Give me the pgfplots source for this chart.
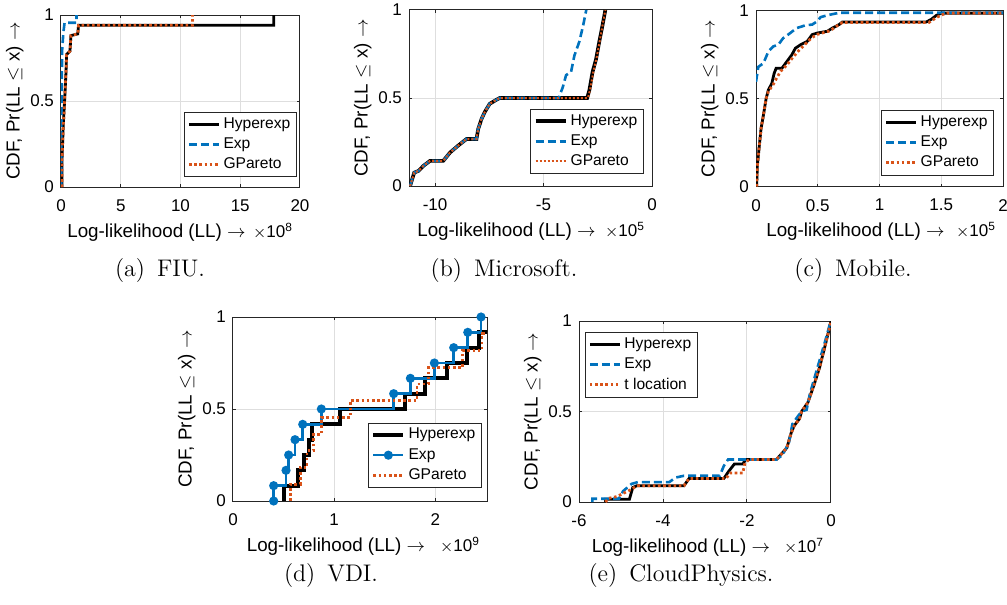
\documentclass[border=0pt]{standalone}
\usepackage{fontspec}
\usepackage{pgfplots}
\pgfplotsset{compat=1.18}
\newfontfamily\hv{Liberation Sans}
\definecolor{mblue}{rgb}{0,0.447,0.741}
\definecolor{morange}{rgb}{0.85,0.325,0.098}
\definecolor{axgray}{rgb}{0.15,0.15,0.15}
\definecolor{gridgray}{rgb}{0.87,0.87,0.87}

\pgfplotsset{
  mlab/.style={
    scale only axis, anchor=south west,
    ymin=0, ymax=1, ytick={0,0.5,1},
    grid=major, major grid style={gridgray, line width=0.5pt},
    axis line style={axgray, line width=0.5pt},
    every tick/.style={axgray, line width=0.5pt},
    tick align=inside, major tick length=1.5pt, tick pos=both,
    /pgf/number format/assume math mode=true,
    tick label style={font=\hv\fontsize{8.5}{10}\selectfont},
    xticklabel style={yshift=-2.8pt},
    label style={font=\hv\fontsize{9.4}{11}\selectfont},
    xlabel={Log-likelihood (LL) $\rightarrow$},
    xlabel style={at={(axis description cs:0.5,0)}, anchor=base, yshift=-25pt, xshift=-12pt},
    ylabel={CDF, Pr(LL $\leq$ x) $\rightarrow$},
    ylabel shift=-3.5pt,
    legend cell align=left,
    legend style={font=\hv\fontsize{7.8}{9}\selectfont, draw=axgray,
      fill=white, inner xsep=1.5pt, inner ysep=1pt, nodes={inner sep=1.6pt, text depth=0.15em}},
    legend image code/.code={\draw[mark repeat=2, mark phase=2, #1] plot coordinates {(0pt,0pt) (7.5pt,0pt) (15pt,0pt)};},
  },
  hyp/.style={black, line width=1.4pt},
  expo/.style={mblue, line width=1.3pt, dash pattern=on 4pt off 2pt},
  gpar/.style={morange, line width=1.4pt, dash pattern=on 1.3pt off 1.3pt},
}
\newcommand{\expo}[1]{\hv\fontsize{8.5}{10}\selectfont$\times$10\textsuperscript{#1}}

\begin{document}
\begin{tikzpicture}
\path[use as bounding box] (0,0) rectangle (503.5pt,-302.5pt);

% (a) FIU
\begin{axis}[mlab, name=A, at={(30.5pt,-93.5pt)}, width=119.5pt, height=86pt,
  xmin=0, xmax=20, xtick={0,5,10,15,20},
  legend style={at={(0.987,0.058)}, anchor=south east}]
\addplot[hyp] coordinates {(0.08,0) (0.08,0.15) (0.19,0.36) (0.3,0.5) (0.42,0.67) (0.47,0.77) (0.75,0.79) (0.83,0.88) (1.4,0.89) (1.47,0.94) (17.8,0.94) (17.8,1)};
\addlegendentry{Hyperexp}
\addplot[expo] coordinates {(0.02,0) (0.03,0.3) (0.06,0.6) (0.1,0.8) (0.2,0.9) (0.3,0.955) (1.3,0.955) (1.3,1)};
\addlegendentry{Exp}
\addplot[gpar] coordinates {(0.08,0) (0.08,0.15) (0.19,0.36) (0.3,0.5) (0.42,0.67) (0.47,0.77) (0.75,0.79) (0.83,0.88) (1.4,0.89) (1.47,0.94) (11,0.94) (11,1)};
\addlegendentry{GPareto}
\end{axis}
\node[anchor=base east] at ([yshift=-25pt]A.south east) {\expo{8}};

% (b) Microsoft
\begin{axis}[mlab, name=B, at={(204.5pt,-93pt)}, width=121.5pt, height=88pt,
  xmin=-11.2, xmax=0, xtick={-10,-5,0},
  legend style={at={(0.967,0.068)}, anchor=south east}]
\addplot[black, line width=1.8pt] coordinates {(-11.15,0) (-10.96,0.076) (-10.76,0.086) (-10.54,0.114) (-10.23,0.143) (-9.62,0.143) (-9.31,0.19) (-8.93,0.23) (-8.55,0.267) (-8.09,0.267) (-8.01,0.324) (-7.86,0.38) (-7.71,0.42) (-7.48,0.467) (-7.17,0.49) (-7.02,0.5) (-2.99,0.5) (-2.89,0.543) (-2.74,0.648) (-2.58,0.72) (-2.43,0.82) (-2.28,0.914) (-2.15,1.0)};
\addlegendentry{Hyperexp}
\addplot[expo] coordinates {(-11.15,0) (-10.96,0.076) (-10.76,0.086) (-10.54,0.114) (-10.23,0.143) (-9.62,0.143) (-9.31,0.19) (-8.93,0.23) (-8.55,0.267) (-8.09,0.267) (-8.01,0.324) (-7.86,0.38) (-7.71,0.42) (-7.48,0.467) (-7.17,0.49) (-7.02,0.5) (-4.3,0.5) (-4.11,0.562) (-3.96,0.63) (-3.73,0.648) (-3.58,0.74) (-3.35,0.82) (-3.17,0.914) (-3.03,1.0)};
\addlegendentry{Exp}
\addplot[morange, line width=1pt, dash pattern=on 1pt off 1pt] coordinates {(-11.15,0) (-10.96,0.076) (-10.76,0.086) (-10.54,0.114) (-10.23,0.143) (-9.62,0.143) (-9.31,0.19) (-8.93,0.23) (-8.55,0.267) (-8.09,0.267) (-8.01,0.324) (-7.86,0.38) (-7.71,0.42) (-7.48,0.467) (-7.17,0.49) (-7.02,0.5) (-2.95,0.5) (-2.85,0.55) (-2.7,0.65) (-2.55,0.73) (-2.4,0.83) (-2.27,0.92) (-2.15,1.0)};
\addlegendentry{GPareto}
\end{axis}
\node[anchor=base east] at ([yshift=-25pt]B.south east) {\expo{5}};

% (c) Mobile
\begin{axis}[mlab, name=C, at={(378pt,-93.25pt)}, width=123.5pt, height=88pt,
  xmin=0, xmax=2, xtick={0,0.5,1,1.5,2},
  legend style={at={(0.964,0.063)}, anchor=south east}]
\addplot[hyp] coordinates {(0.005,0) (0.011,0.118) (0.027,0.233) (0.041,0.33) (0.06,0.405) (0.082,0.5) (0.1,0.548) (0.128,0.586) (0.147,0.643) (0.163,0.672) (0.21,0.672) (0.25,0.71) (0.29,0.748) (0.319,0.786) (0.36,0.805) (0.414,0.824) (0.455,0.863) (0.496,0.872) (0.578,0.882) (0.618,0.9) (0.673,0.92) (0.7,0.935) (1.38,0.935) (1.42,0.95) (1.46,0.972) (1.5,0.985) (2,0.985)};
\addlegendentry{Hyperexp}
\addplot[expo] coordinates {(0,0.595) (0.019,0.68) (0.06,0.70) (0.1,0.767) (0.14,0.796) (0.18,0.805) (0.22,0.843) (0.26,0.863) (0.33,0.9) (0.4,0.916) (0.455,0.92) (0.496,0.939) (0.523,0.962) (0.577,0.973) (0.673,0.987) (2,0.987)};
\addlegendentry{Exp}
\addplot[gpar] coordinates {(0.005,0) (0.011,0.118) (0.027,0.233) (0.041,0.33) (0.06,0.405) (0.082,0.5) (0.1,0.54) (0.14,0.58) (0.17,0.62) (0.2,0.655) (0.25,0.69) (0.3,0.735) (0.35,0.775) (0.4,0.81) (0.45,0.845) (0.5,0.865) (0.6,0.885) (0.65,0.91) (0.7,0.932) (1.4,0.932) (1.45,0.955) (1.5,0.975) (1.55,0.985) (2,0.985)};
\addlegendentry{GPareto}
\end{axis}
\node[anchor=base east] at ([yshift=-25pt]C.south east) {\expo{5}};

% (d) VDI
\begin{axis}[mlab, name=D, at={(116.5pt,-250.5pt)}, width=127pt, height=92pt,
  xmin=0, xmax=2.51, xtick={0,1,2},
  legend style={at={(0.98,0.071)}, anchor=south east}]
\addplot[black, line width=2pt, const plot] coordinates {(0.50,0) (0.50,0.0833) (0.639,0.1667) (0.698,0.25) (0.748,0.3333) (0.78,0.4167) (1.061,0.5) (1.703,0.5833) (1.901,0.6667) (2.115,0.75) (2.313,0.8333) (2.435,0.9167) (2.6,1)};
\addlegendentry{Hyperexp}
\addplot[mblue, line width=1.3pt, const plot, mark=*, mark size=1.6pt, mark options={solid, fill=mblue}] coordinates {(0.402,0) (0.402,0.0833) (0.524,0.1667) (0.55,0.25) (0.613,0.3333) (0.689,0.4167) (0.873,0.5) (1.588,0.5833) (1.753,0.6667) (1.99,0.75) (2.181,0.8333) (2.32,0.9167) (2.451,1)};
\addlegendentry{Exp}
\addplot[gpar, const plot] coordinates {(0.567,0) (0.567,0.0909) (0.666,0.1818) (0.731,0.2727) (0.797,0.3636) (0.873,0.4545) (1.16,0.5455) (1.819,0.6364) (1.934,0.7273) (2.27,0.8182) (2.46,0.9091) (2.6,1)};
\addlegendentry{GPareto}
\end{axis}
\node[anchor=base east] at ([yshift=-25pt]D.south east) {\expo{9}};

% (e) CloudPhysics
\begin{axis}[mlab, name=E, at={(289.5pt,-251pt)}, width=126pt, height=90.5pt,
  xmin=-6, xmax=0, xtick={-6,-4,-2,0},
  legend style={at={(0.024,0.94)}, anchor=north west}]
\addplot[hyp] coordinates {(-5.37,0) (-5.37,0.015) (-4.8,0.015) (-4.72,0.08) (-4.62,0.09) (-3.5,0.09) (-3.38,0.13) (-2.55,0.13) (-2.45,0.165) (-2.3,0.21) (-2.1,0.21) (-2.03,0.235) (-1.3,0.235) (-1.2,0.26) (-1.05,0.3) (-0.95,0.38) (-0.88,0.42) (-0.75,0.46) (-0.7,0.5) (-0.55,0.55) (-0.4,0.65) (-0.27,0.745) (-0.15,0.855) (-0.07,0.93) (0,1)};
\addlegendentry{Hyperexp}
\addplot[expo] coordinates {(-5.68,0) (-5.68,0.018) (-5.05,0.018) (-4.95,0.06) (-4.75,0.1) (-4.6,0.11) (-3.85,0.11) (-3.7,0.135) (-3.5,0.145) (-2.65,0.145) (-2.55,0.2) (-2.45,0.235) (-1.3,0.235) (-1.15,0.26) (-1.0,0.33) (-0.92,0.43) (-0.8,0.47) (-0.7,0.5) (-0.58,0.51) (-0.5,0.6) (-0.4,0.68) (-0.3,0.76) (-0.2,0.84) (-0.1,0.92) (-0.02,0.99) (0,1)};
\addlegendentry{Exp}
\addplot[gpar] coordinates {(-5.37,0) (-5.3,0.02) (-5.1,0.03) (-4.75,0.07) (-4.62,0.09) (-3.5,0.09) (-3.38,0.13) (-2.5,0.13) (-2.4,0.16) (-2.1,0.16) (-2.05,0.215) (-1.95,0.235) (-1.3,0.235) (-1.2,0.26) (-1.05,0.3) (-0.95,0.38) (-0.88,0.42) (-0.75,0.46) (-0.7,0.5) (-0.55,0.55) (-0.4,0.65) (-0.27,0.745) (-0.15,0.855) (-0.07,0.93) (0,1)};
\addlegendentry{t location}
\end{axis}
\node[anchor=base east] at ([yshift=-25pt]E.south east) {\expo{7}};

% captions
\begin{scope}[every node/.style={anchor=base, font=\fontsize{12}{14}\selectfont}]
\node at (80pt,-138pt) {(a)\enspace FIU.};
\node at (252pt,-138pt) {(b)\enspace Microsoft.};
\node at (426.5pt,-138pt) {(c)\enspace Mobile.};
\node at (165.5pt,-290.5pt) {(d)\enspace VDI.};
\node at (340.5pt,-290.5pt) {(e)\enspace CloudPhysics.};
\end{scope}
\end{tikzpicture}
\end{document}
